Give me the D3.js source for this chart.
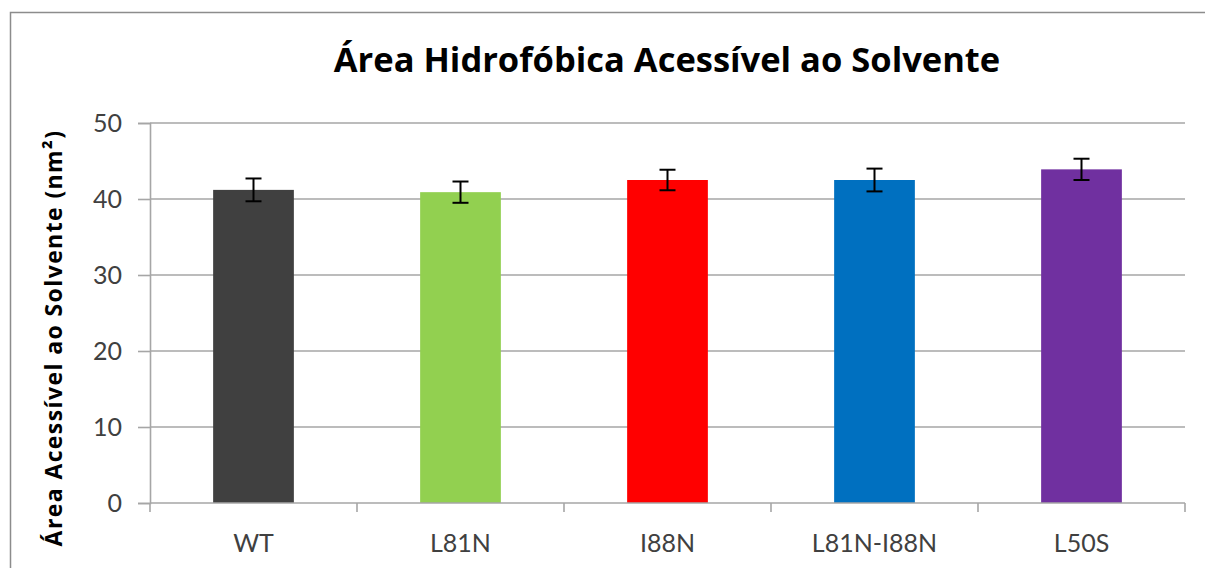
<!DOCTYPE html>
<html>
<head>
<meta charset="utf-8">
<script src="https://cdn.jsdelivr.net/npm/d3@7"></script>
<style>
  body { margin: 0; background: #fff; }
  svg { display: block; font-family: Lato, "Open Sans", sans-serif; }
</style>
</head>
<body>
<svg id="chart" width="1205" height="568"></svg>
<script>
var categories = ["WT", "L81N", "I88N", "L81N-I88N", "L50S"];
var values = [41.2, 40.9, 42.5, 42.5, 43.9];
var errors = [1.5, 1.4, 1.35, 1.5, 1.4];
var colors = ["#404040", "#92D050", "#FF0000", "#0070C0", "#7030A0"];
var yTicks = [0, 10, 20, 30, 40, 50];

var svg = d3.select("#chart");

var plotLeft = 150, plotRight = 1185, plotTop = 123, plotBottom = 503;

// outer frame (only left and top edges show in the picture)
svg.append("rect")
  .attr("x", 10.5).attr("y", 12.5)
  .attr("width", 1300).attr("height", 700)
  .attr("fill", "none")
  .attr("stroke", "#8c8c8c")
  .attr("stroke-width", 1.5);

var x = d3.scaleBand()
  .domain(categories)
  .range([plotLeft, plotRight])
  .paddingInner(0.61)
  .paddingOuter(0.305);

var xCat = d3.scaleBand()
  .domain(categories)
  .range([plotLeft, plotRight]);

var y = d3.scaleLinear()
  .domain([0, 50])
  .range([plotBottom, plotTop]);

// gridlines
svg.append("g")
  .selectAll("line")
  .data(yTicks.filter(d => d > 0))
  .enter().append("line")
  .attr("x1", plotLeft).attr("x2", plotRight)
  .attr("y1", d => y(d)).attr("y2", d => y(d))
  .attr("stroke", "#a6a6a6")
  .attr("stroke-width", 1.6);

// y axis
var yAxis = d3.axisLeft(y)
  .tickValues(yTicks)
  .tickSize(12)
  .tickPadding(16);

var gy = svg.append("g")
  .attr("transform", "translate(" + plotLeft + ",0)")
  .call(yAxis);
gy.select(".domain").attr("stroke", "#a6a6a6").attr("stroke-width", 1.6);
gy.selectAll(".tick line").attr("stroke", "#a6a6a6").attr("stroke-width", 1.6);
gy.selectAll(".tick text")
  .attr("font-family", "Lato, 'Open Sans', sans-serif")
  .attr("font-size", 25)
  .attr("fill", "#404040");

// bars
svg.append("g")
  .selectAll("rect")
  .data(categories)
  .enter().append("rect")
  .attr("x", d => x(d))
  .attr("width", x.bandwidth())
  .attr("y", (d, i) => y(values[i]))
  .attr("height", (d, i) => y(0) - y(values[i]))
  .attr("fill", (d, i) => colors[i]);

// error bars
var eb = svg.append("g")
  .selectAll("g")
  .data(categories)
  .enter().append("g")
  .attr("stroke", "#000")
  .attr("stroke-width", 2);

eb.append("line")
  .attr("x1", d => x(d) + x.bandwidth() / 2)
  .attr("x2", d => x(d) + x.bandwidth() / 2)
  .attr("y1", (d, i) => y(values[i] + errors[i]))
  .attr("y2", (d, i) => y(values[i] - errors[i]));
eb.append("line")
  .attr("x1", d => x(d) + x.bandwidth() / 2 - 8)
  .attr("x2", d => x(d) + x.bandwidth() / 2 + 8)
  .attr("y1", (d, i) => y(values[i] + errors[i]))
  .attr("y2", (d, i) => y(values[i] + errors[i]));
eb.append("line")
  .attr("x1", d => x(d) + x.bandwidth() / 2 - 8)
  .attr("x2", d => x(d) + x.bandwidth() / 2 + 8)
  .attr("y1", (d, i) => y(values[i] - errors[i]))
  .attr("y2", (d, i) => y(values[i] - errors[i]));

// x axis: ticks on category boundaries
var gx = svg.append("g")
  .attr("transform", "translate(0," + plotBottom + ")");
gx.append("line")
  .attr("x1", plotLeft).attr("x2", plotRight)
  .attr("stroke", "#a6a6a6").attr("stroke-width", 1.6);
gx.selectAll(".bnd")
  .data(categories.concat(["end"]))
  .enter().append("line")
  .attr("class", "bnd")
  .attr("x1", (d, i) => i < categories.length ? xCat(d) : plotRight)
  .attr("x2", (d, i) => i < categories.length ? xCat(d) : plotRight)
  .attr("y1", 0).attr("y2", 9)
  .attr("stroke", "#a6a6a6").attr("stroke-width", 1.6);
gx.selectAll(".lbl")
  .data(categories)
  .enter().append("text")
  .attr("class", "lbl")
  .attr("x", d => xCat(d) + xCat.bandwidth() / 2)
  .attr("y", 49)
  .attr("text-anchor", "middle")
  .attr("font-size", 25)
  .attr("fill", "#404040")
  .text(d => d);

// title
svg.append("text")
  .attr("x", 667)
  .attr("y", 72)
  .attr("text-anchor", "middle")
  .attr("font-family", "'Open Sans', sans-serif")
  .attr("font-size", 34.5)
  .attr("font-weight", "bold")
  .attr("fill", "#000")
  .text("Área Hidrofóbica Acessível ao Solvente");

// y axis title
svg.append("text")
  .attr("transform", "translate(62,338) rotate(-90)")
  .attr("text-anchor", "middle")
  .attr("font-family", "'Open Sans', sans-serif")
  .attr("font-size", 23)
  .attr("font-weight", "bold")
  .attr("letter-spacing", 1.4)
  .attr("fill", "#000")
  .text("Área Acessível ao Solvente (nm²)");
</script>
</body>
</html>
